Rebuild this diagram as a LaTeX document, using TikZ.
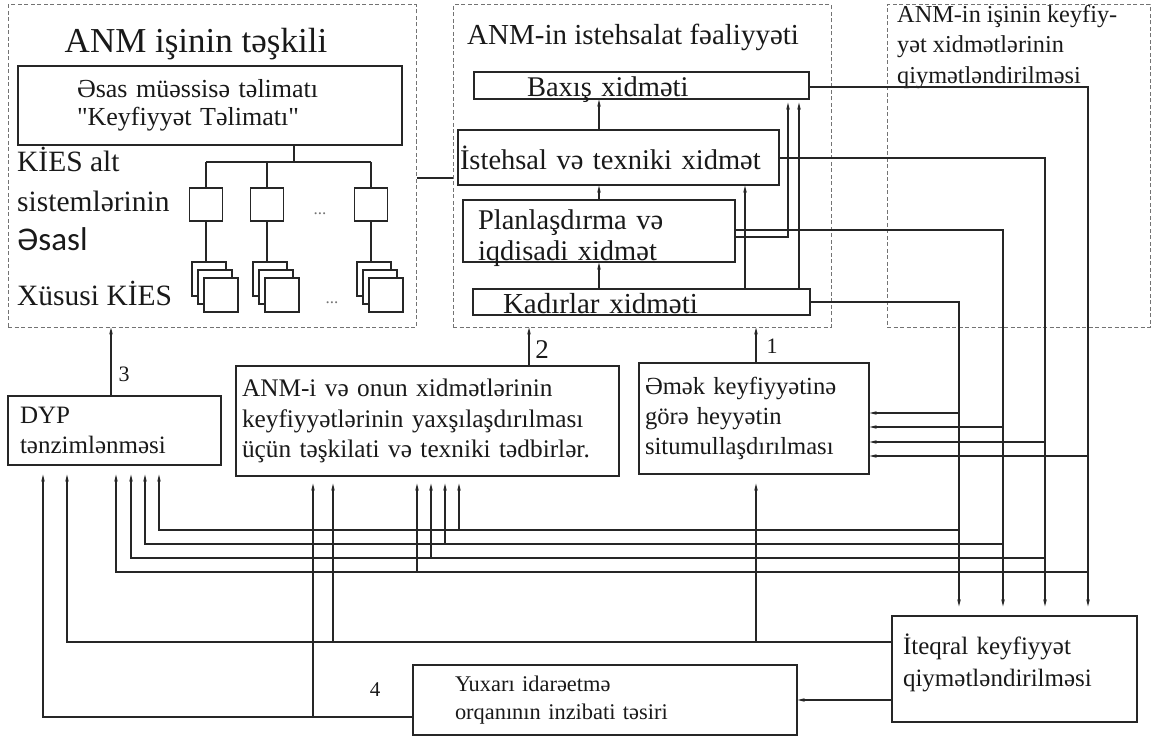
\documentclass[tikz,border=0pt]{standalone}
\usepackage{fontspec}
\setmainfont{Liberation Serif}[Ligatures=TeXOff]
\newfontfamily\carlitofont{Carlito}
\usetikzlibrary{arrows.meta,calc}
\newcommand\myfs[2]{\fontsize{#1}{#2}\selectfont}
\begin{document}
\begin{tikzpicture}[x=1pt,y=-1pt,
  ln/.style={draw=black!85, line width=1.15pt},
  arr/.style={ln, -{Stealth[length=7pt,width=3.5pt]}},
  box/.style={draw=black!85, line width=1.25pt, inner sep=0pt, align=left, fill=white, text=black!90},
  grp/.style={draw=black!55, dash pattern=on 4pt off 2.5pt, line width=1pt, inner sep=0pt},
  sq/.style={draw=black!85, line width=1.1pt, fill=white, inner sep=0pt, minimum width=34pt, minimum height=34pt},
  lbl/.style={inner sep=0pt, text=black!90},
]
\useasboundingbox (0,0) rectangle (1161,738);

% dashed groups
\node[grp, minimum width=408pt, minimum height=322pt] (g1) at (212,166) {};
\node[grp, minimum width=378pt, minimum height=322pt] (g2) at (642,166) {};
\node[grp, minimum width=263pt, minimum height=322pt] (g3) at (1018.5,166) {};

% titles
\node[lbl, anchor=base, font=\myfs{35}{40}] (t1) at (196,53) {ANM işinin təşkili};
\node[lbl, anchor=base west, font=\myfs{29}{34}] (t2) at (467,45) {ANM-in istehsalat fəaliyyəti};
\node[lbl, anchor=north west, align=left, font=\myfs{24.3}{30.5}] (t3) at (897,5) {ANM-in işinin keyfiy-\\yət xidmətlərinin\\qiymətləndirilməsi};

% group 1 content
\node[box, minimum width=384pt, minimum height=79pt, text width=266pt, font=\myfs{26}{28}] (esas) at (210,105.5)
  {Əsas müəssisə təlimatı\\"Keyfiyyət Təlimatı"};
\node[lbl, anchor=north west, align=left, font=\myfs{29.5}{39.5}] (kies) at (17,147)
  {KİES alt\\sistemlərinin\\{\carlitofont\fontsize{33}{39.5}\selectfont Əsasl}};
\node[lbl, anchor=base west, font=\myfs{29.5}{34}] (xus) at (17,305) {Xüsusi KİES};

\coordinate (tj) at (294,162);
\coordinate (ta) at (206,162);
\coordinate (tb) at (267,162);
\coordinate (tc) at (371,162);
\draw[ln] (esas.south -| tj) -- (tj);
\draw[ln] (ta) -- (tc);

\foreach \n/\x in {1/206,2/267,3/371}{
  \node[box, minimum width=33pt, minimum height=33pt] (s\n) at (\x,204.5) {};
  \node[sq] (st\n a) at (\x+3,279) {};
  \node[sq] (st\n b) at (\x+9,287) {};
  \node[sq] (st\n c) at (\x+15,295) {};
  \draw[ln] (\x,162) -- (s\n.north);
  \draw[ln] (s\n.south) -- (st\n a.north -| s\n.south);
}
\node[lbl, text=black!55, font=\myfs{17}{18}] (d1) at (320,214) {...};
\node[lbl, text=black!55, font=\myfs{17}{18}] (d2) at (332,303) {...};

\coordinate (gl) at (0,178);
\draw[ln] (g1.east |- gl) -- (g2.west |- gl);

% group 2 content
\node[box, minimum width=335pt, minimum height=27pt, text width=229pt, text height=25pt, text depth=2pt, font=\myfs{28.5}{30}] (bax) at (641.5,85.5) {Baxış xidməti};
\node[box, minimum width=321pt, minimum height=55pt, text width=317pt, font=\myfs{28.5}{32}] (ist) at (618.5,157.5) {İstehsal və texniki xidmət};
\node[box, minimum width=272pt, minimum height=62pt, text width=242pt, text height=29pt, text depth=33pt, font=\myfs{28.5}{32}] (pla) at (599,231) {Planlaşdırma və\\iqdisadi xidmət};
\node[box, minimum width=337pt, minimum height=26pt, text width=277pt, text height=24pt, text depth=2pt, font=\myfs{29}{32}] (kad) at (641.5,302) {Kadırlar xidməti};

\coordinate (xc) at (599,0);
\coordinate (xk) at (745,0);
\coordinate (xp) at (788,0);
\coordinate (xq) at (799,0);
\coordinate (yp) at (0,237);
\draw[arr] (kad.north -| xc) -- (pla.south -| xc);
\draw[arr] (pla.north -| xc) -- (ist.south -| xc);
\draw[arr] (ist.north -| xc) -- (bax.south -| xc);
\draw[arr] (kad.north -| xk) -- (ist.south -| xk);
\draw[arr, shorten >=3pt] (pla.east |- yp) -| (bax.south -| xp);
\draw[arr, shorten >=3pt] (kad.north -| xq) -- (bax.south -| xq);

% bottom boxes
\node[box, minimum width=213pt, minimum height=69pt, text width=189pt, font=\myfs{25}{30}] (dyp) at (114.5,430.5)
  {DYP\\tənzimlənməsi};
\node[box, minimum width=383pt, minimum height=110pt, text width=371pt, font=\myfs{25.3}{30.5}] (anm) at (427.5,421)
  {ANM-i və onun xidmətlərinin\\keyfiyyətlərinin yaxşılaşdırılması\\üçün təşkilati və texniki tədbirlər.};
\node[box, minimum width=230pt, minimum height=111pt, text width=218pt, font=\myfs{24.6}{30}] (emek) at (754,418.5)
  {Əmək keyfiyyətinə\\görə heyyətin\\situmullaşdırılması};
\node[box, minimum width=245pt, minimum height=106pt, text width=223pt, font=\myfs{25}{32}] (integ) at (1014.5,669)
  {İteqral keyfiyyət\\qiymətləndirilməsi\rule[-18pt]{0pt}{1pt}};
\node[box, minimum width=384pt, minimum height=70pt, text width=300pt, font=\myfs{22.4}{28}] (yux) at (605,700)
  {Yuxarı idarəetmə\\orqanının inzibati təsiri};

% numbered arrows
\coordinate (x3) at (111,0);
\coordinate (x2) at (529,0);
\coordinate (x1) at (756,0);
\draw[arr] (dyp.north -| x3) -- (g1.south -| x3);
\draw[arr] (anm.north -| x2) -- (g2.south -| x2);
\draw[arr] (emek.north -| x1) -- (g2.south -| x1);
\node[lbl, font=\myfs{22}{24}] (n3) at (124,374) {3};
\node[lbl, font=\myfs{27}{28}] (n2) at (542,350) {2};
\node[lbl, font=\myfs{22}{24}] (n1) at (772,346) {1};
\node[lbl, font=\myfs{21}{24}] (n4) at (375,690) {4};

% right-hand feedback lines
\coordinate (vA) at (959,0);
\coordinate (vB) at (1003,0);
\coordinate (vC) at (1045,0);
\coordinate (vD) at (1088,0);
\coordinate (yA) at (0,302);
\coordinate (yB) at (0,230);
\coordinate (yC) at (0,158);
\coordinate (yD) at (0,87);
\draw[arr, shorten >=9pt] (kad.east |- yA) -| (integ.north -| vA);
\draw[arr, shorten >=9pt] (pla.east |- yB) -| (integ.north -| vB);
\draw[arr, shorten >=9pt] (ist.east |- yC) -| (integ.north -| vC);
\draw[arr, shorten >=9pt] (bax.east |- yD) -| (integ.north -| vD);

\coordinate (e1) at (0,413);
\coordinate (e2) at (0,427);
\coordinate (e3) at (0,442);
\coordinate (e4) at (0,456);
\draw[arr] (vA |- e1) -- (emek.east |- e1);
\draw[arr] (vB |- e2) -- (emek.east |- e2);
\draw[arr] (vC |- e3) -- (emek.east |- e3);
\draw[arr] (vD |- e4) -- (emek.east |- e4);

\coordinate (h1) at (0,530);
\coordinate (h2) at (0,544);
\coordinate (h3) at (0,558);
\coordinate (h4) at (0,572);
\coordinate (dA) at (159,0);
\coordinate (dB) at (145,0);
\coordinate (dC) at (131,0);
\coordinate (dD) at (116,0);
\coordinate (aA) at (459,0);
\coordinate (aB) at (445,0);
\coordinate (aC) at (431,0);
\coordinate (aD) at (417,0);
\draw[arr, shorten >=9pt] (vA |- h1) -| (dyp.south -| dA);
\draw[arr, shorten >=9pt] (vB |- h2) -| (dyp.south -| dB);
\draw[arr, shorten >=9pt] (vC |- h3) -| (dyp.south -| dC);
\draw[arr, shorten >=9pt] (vD |- h4) -| (dyp.south -| dD);
\draw[arr, shorten >=7pt] (aA |- h1) -- (anm.south -| aA);
\draw[arr, shorten >=7pt] (aB |- h2) -- (anm.south -| aB);
\draw[arr, shorten >=7pt] (aC |- h3) -- (anm.south -| aC);
\draw[arr, shorten >=7pt] (aD |- h4) -- (anm.south -| aD);

% integral / top authority lines
\coordinate (r1) at (0,642);
\coordinate (r2) at (0,717);
\coordinate (r3) at (0,700);
\coordinate (xd1) at (67,0);
\coordinate (xd2) at (43,0);
\coordinate (xa1) at (333,0);
\coordinate (xa2) at (313,0);
\draw[arr, shorten >=9pt] (integ.west |- r1) -| (dyp.south -| xd1);
\draw[arr, shorten >=7pt] (xa1 |- r1) -- (anm.south -| xa1);
\draw[arr, shorten >=9pt] (x1 |- r1) -- (emek.south -| x1);
\draw[arr, shorten >=9pt] (yux.west |- r2) -| (dyp.south -| xd2);
\draw[arr, shorten >=7pt] (xa2 |- r2) -- (anm.south -| xa2);
\draw[arr] (integ.west |- r3) -- (yux.east |- r3);
\end{tikzpicture}
\end{document}
